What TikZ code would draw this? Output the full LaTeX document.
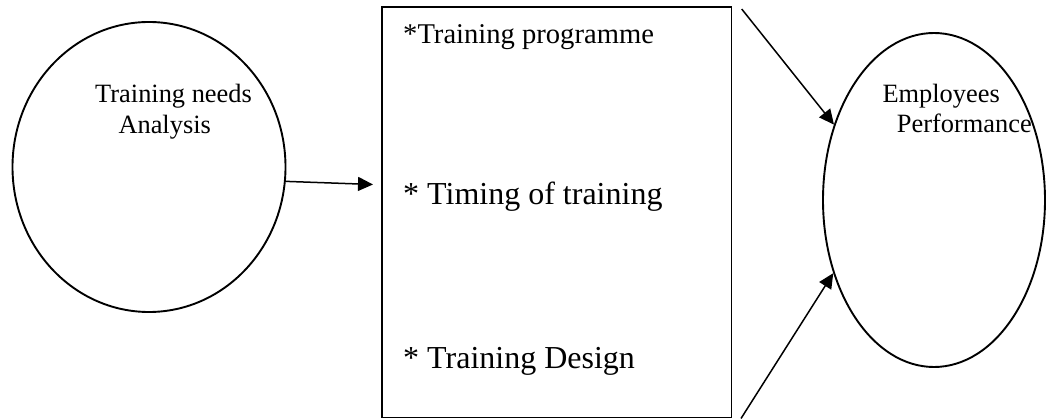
\documentclass[tikz,border=0pt]{standalone}
\usepackage{fontspec}
\setmainfont{Liberation Serif}
\usetikzlibrary{arrows.meta,shapes.geometric}

\tikzset{
  oval/.style={draw, line width=1.9pt, ellipse, inner sep=0pt},
  panel/.style={draw, line width=1.9pt, rectangle, inner sep=0pt},
  link/.style={line width=1.5pt, -{Triangle[length=15pt,width=14pt]}},
  lbl/.style={anchor=base west, inner sep=0pt, font=\fontsize{26.4}{30}\selectfont},
  item/.style={anchor=base west, inner sep=0pt, font=\fontsize{32}{38}\selectfont},
}

\begin{document}
\begin{tikzpicture}[x=1pt, y=-1pt]
  \useasboundingbox (0,0) rectangle (1047,419);

  % three blocks of the model
  \node[oval, minimum width=273pt, minimum height=290pt] (tna) at (149,167) {};
  \node[panel, minimum width=349.5pt, minimum height=410.5pt] (box) at (556.75,212.25) {};
  \node[oval, minimum width=222pt, minimum height=334pt] (perf) at (934,200) {};

  % labels inside the ovals
  \node[lbl] (tna1) at (95,102.7) {Training needs};
  \node[lbl] (tna2) at (118.3,133.3) {Analysis};
  \node[lbl] (perf1) at (882.3,102.7) {Employees};
  \node[lbl] (perf2) at (896.7,132.7) {Performance};

  % items listed in the panel
  \node[item, font=\fontsize{28.6}{34}\selectfont] (it1) at (403,43.3) {*Training programme};
  \node[item] (it2) at (403,205) {* Timing of training};
  \node[item] (it3) at (403,368.3) {* Training Design};

  % connectors
  \coordinate (boxin) at (373,184.5);
  \coordinate (topstart) at (741.7,9);
  \coordinate (botstart) at (741,418.5);
  \draw[link] (tna.-6.3) -- (boxin);
  \draw[link] (topstart) -- (perf.143.2);
  \draw[link] (botstart) -- (perf.216.4);
\end{tikzpicture}
\end{document}
